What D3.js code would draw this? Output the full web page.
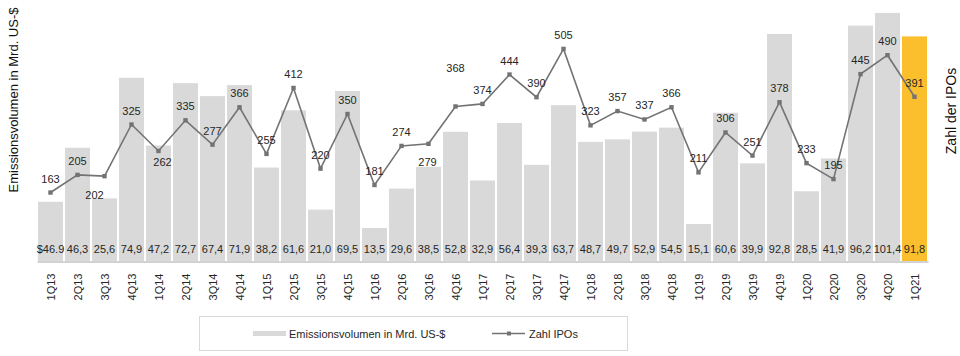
<!DOCTYPE html>
<html><head><meta charset="utf-8">
<script src="https://cdn.jsdelivr.net/npm/d3@7"></script>
<style>body{margin:0;background:#fff}svg{display:block;font-family:"Liberation Sans",Arial,sans-serif}</style>
</head><body><svg id="c" width="960" height="356"></svg>
<script>
const categories = ["1Q13","2Q13","3Q13","4Q13","1Q14","2Q14","3Q14","4Q14","1Q15","2Q15","3Q15","4Q15","1Q16","2Q16","3Q16","4Q16","1Q17","2Q17","3Q17","4Q17","1Q18","2Q18","3Q18","4Q18","1Q19","2Q19","3Q19","4Q19","1Q20","2Q20","3Q20","4Q20","1Q21"];
const volumeValues = [24.2,46.3,25.6,74.9,47.2,72.7,67.4,71.9,38.2,61.6,21.0,69.5,13.5,29.6,38.5,52.8,32.9,56.4,39.3,63.7,48.7,49.7,52.9,54.5,15.1,60.6,39.9,92.8,28.5,41.9,96.2,101.4,91.8];
const volumeLabels = ["$46.9","46,3","25,6","74,9","47,2","72,7","67,4","71,9","38,2","61,6","21,0","69,5","13,5","29,6","38,5","52,8","32,9","56,4","39,3","63,7","48,7","49,7","52,9","54,5","15,1","60,6","39,9","92,8","28,5","41,9","96,2","101,4","91,8"];
const ipoCounts = [163,205,202,325,262,335,277,366,255,412,220,350,181,274,279,368,374,444,390,505,323,357,337,366,211,306,251,378,233,195,445,490,391];
const seriesNames = ["Emissionsvolumen in Mrd. US-$","Zahl IPOs"];
const axisTitles = ["Emissionsvolumen in Mrd. US-$","Zahl der IPOs"];

const svg = d3.select("#c");
const x = d3.scaleBand().domain(categories).range([37,928]).paddingInner(0.074).paddingOuter(0.037);
const yL = d3.scaleLinear().domain([0,103]).range([261,9]);
const yR = d3.scaleLinear().domain([0,600]).range([261,9]);
const GREY = "#d9d9d9", GOLD = "#fbbf2d", LINE = "#737373", TXT = "#262626";

// bars
svg.append("g").selectAll("rect").data(categories).join("rect")
  .attr("x", d => x(d)).attr("width", x.bandwidth())
  .attr("y", (d,i) => yL(volumeValues[i]))
  .attr("height", (d,i) => yL(0) - yL(volumeValues[i]))
  .attr("fill", (d,i) => i === categories.length-1 ? GOLD : GREY);

// bar value labels
svg.append("g").selectAll("text").data(categories).join("text")
  .attr("x", d => x(d) + x.bandwidth()/2).attr("y", 253)
  .attr("text-anchor","middle").attr("font-size", 11).attr("fill", TXT)
  .text((d,i) => volumeLabels[i]);

// bottom axis
const ax = svg.append("g").attr("transform","translate(0,261.5)")
  .call(d3.axisBottom(x).tickSize(0).tickPadding(0));
ax.select(".domain").attr("stroke","#a6a6a6").attr("stroke-width",1.2);
ax.selectAll("text").attr("font-size",11).attr("fill",TXT)
  .attr("font-family","Liberation Sans, Arial, sans-serif")
  .attr("text-anchor","end").attr("dy",null)
  .attr("transform","translate(4,12) rotate(-90)").attr("y",0).attr("x",0);

// line
const line = d3.line().x((d,i) => x(categories[i]) + x.bandwidth()/2).y(d => yR(d));
svg.append("path").datum(ipoCounts).attr("d", line)
  .attr("fill","none").attr("stroke",LINE).attr("stroke-width",1.6);
svg.append("g").selectAll("rect").data(ipoCounts).join("rect")
  .attr("x",(d,i) => x(categories[i]) + x.bandwidth()/2 - 2.2)
  .attr("y", d => yR(d) - 2.2).attr("width",4.4).attr("height",4.4).attr("fill",LINE);

// line labels (a few are nudged as in the original)
const nudge = {2:[-10,33], 4:[4,25], 14:[-1,32], 15:[0,-24]};
svg.append("g").selectAll("text").data(ipoCounts).join("text")
  .attr("x",(d,i) => x(categories[i]) + x.bandwidth()/2 + (nudge[i]?nudge[i][0]:0))
  .attr("y",(d,i) => yR(d) - 10 + (nudge[i]?nudge[i][1]:0))
  .attr("text-anchor","middle").attr("font-size",11).attr("fill",TXT)
  .text(d => d);

// axis titles
svg.append("text").attr("transform","translate(18,100) rotate(-90)")
  .attr("text-anchor","middle").attr("font-size",13).attr("fill","#111").text(axisTitles[0]);
svg.append("text").attr("transform","translate(956,111) rotate(-90)")
  .attr("text-anchor","middle").attr("font-size",14).attr("fill","#111").text(axisTitles[1]);

// legend
const lg = svg.append("g");
lg.append("rect").attr("x",199.5).attr("y",316.5).attr("width",428).attr("height",34)
  .attr("fill","#fff").attr("stroke","#d9d9d9");
lg.append("rect").attr("x",253).attr("y",331).attr("width",33).attr("height",5).attr("fill",GREY);
lg.append("text").attr("x",289).attr("y",337.5).attr("font-size",11).attr("fill",TXT).text(seriesNames[0]);
lg.append("line").attr("x1",492).attr("x2",525).attr("y1",333.5).attr("y2",333.5).attr("stroke",LINE).attr("stroke-width",1.4);
lg.append("rect").attr("x",507).attr("y",331.5).attr("width",4).attr("height",4).attr("fill",LINE);
lg.append("text").attr("x",529).attr("y",337.5).attr("font-size",11).attr("fill",TXT).text(seriesNames[1]);
</script></body></html>
